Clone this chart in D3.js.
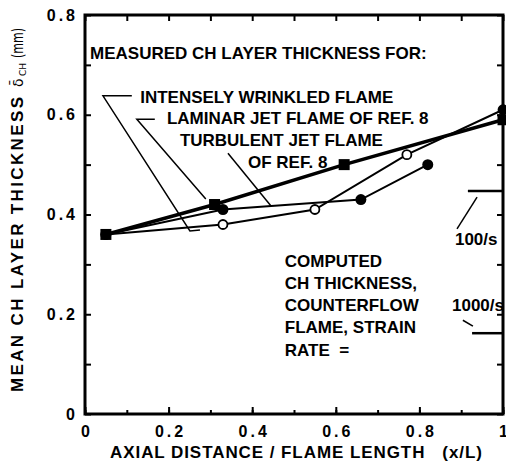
<!DOCTYPE html>
<html>
<head>
<meta charset="utf-8">
<script src="https://cdn.jsdelivr.net/npm/d3@7"></script>
<style>
html, body { margin: 0; padding: 0; background: #fff; }
svg { display: block; font-family: "Liberation Sans", Arial, sans-serif; font-weight: bold; }
</style>
</head>
<body>
<div id="chart"></div>
<script>
// measured CH layer thickness (mm) against x/L
var laminarX = [0.05, 0.31, 0.62, 1.0];
var laminarY = [0.36, 0.42, 0.50, 0.59];
var turbulentX = [0.05, 0.33, 0.66, 0.82];
var turbulentY = [0.36, 0.41, 0.43, 0.50];
var wrinkledX = [0.05, 0.33, 0.55, 0.77, 1.0];
var wrinkledY = [0.36, 0.38, 0.41, 0.52, 0.61];

// computed counterflow thickness, by strain rate
var strainRates = ['100/s', '1000/s'];
var strainThickness = [0.447, 0.162];

var xTicks = [0, 0.2, 0.4, 0.6, 0.8, 1];
var xTickLabels = ['0', '0.2', '0.4', '0.6', '0.8', '1'];
var yTicks = [0, 0.2, 0.4, 0.6, 0.8];
var yTickLabels = ['0', '0.2', '0.4', '0.6', '0.8'];

// annotation text, placed in data units
var noteText = ['MEASURED CH LAYER THICKNESS FOR:', 'INTENSELY WRINKLED FLAME',
    'LAMINAR JET FLAME OF REF. 8', 'TURBULENT JET FLAME', 'OF REF. 8'];
var noteX = [0.012, 0.132, 0.196, 0.227, 0.390];
var noteY = [0.712, 0.624, 0.581, 0.537, 0.493];
var computedText = ['COMPUTED', 'CH THICKNESS,', 'COUNTERFLOW', 'FLAME, STRAIN', 'RATE  ='];
var computedY = [0.295, 0.251, 0.207, 0.162, 0.116];

var width = 506, height = 471;

var x = d3.scaleLinear().domain([0, 1]).range([85, 503]);
var y = d3.scaleLinear().domain([0, 0.8]).range([414, 15]);

var svg = d3.select('#chart')
    .append('svg')
    .attr('width', width)
    .attr('height', height);

svg.append('rect').attr('width', width).attr('height', height).attr('fill', '#fff');

function zip(xs, ys) {
    return xs.map(function (v, i) { return [v, ys[i]] });
}

var line = d3.line()
    .x(function (d) { return x(d[0]) })
    .y(function (d) { return y(d[1]) });

// ticks, all pointing inward
var minor = d3.range(0, 1.001, 0.1);
var minorY = d3.range(0, 0.801, 0.1);

function tickOnly(axis) {
    return function (g) {
        g.call(axis.tickFormat(''));
        g.select('.domain').remove();
        g.selectAll('line').attr('stroke', '#000').attr('stroke-width', 2);
    }
}

svg.append('g').attr('transform', 'translate(' + x(0) + ',0)')
    .call(tickOnly(d3.axisLeft(y).tickValues(minorY).tickSize(-6)));
svg.append('g').attr('transform', 'translate(' + x(1) + ',0)')
    .call(tickOnly(d3.axisRight(y).tickValues(minorY).tickSize(-6)));
svg.append('g').attr('transform', 'translate(0,' + y(0.8) + ')')
    .call(tickOnly(d3.axisTop(x).tickValues(minor).tickSize(-6)));
svg.append('g').attr('transform', 'translate(0,' + y(0) + ')')
    .call(tickOnly(d3.axisBottom(x).tickValues(minor).tickSize(-4)));
svg.append('g').attr('transform', 'translate(0,' + y(0) + ')')
    .call(tickOnly(d3.axisBottom(x).tickValues(xTicks).tickSize(-7)));

// frame
svg.append('rect')
    .attr('x', x(0)).attr('y', y(0.8))
    .attr('width', x(1) - x(0)).attr('height', y(0) - y(0.8))
    .attr('fill', 'none').attr('stroke', '#000').attr('stroke-width', 3);

// tick labels
var ls = 3;
var yAxis = svg.append('g').attr('transform', 'translate(' + x(0) + ',0)')
    .call(d3.axisLeft(y).tickValues(yTicks).tickSize(0).tickPadding(10)
        .tickFormat(function (d, i) { return yTickLabels[i] }));
yAxis.select('.domain').remove();
yAxis.attr('font-family', null).attr('font-size', 16);
yAxis.selectAll('text').attr('fill', '#000').style('letter-spacing', ls + 'px').attr('dx', ls);

var xAxis = svg.append('g').attr('transform', 'translate(0,' + y(0) + ')')
    .call(d3.axisBottom(x).tickValues(xTicks).tickSize(0).tickPadding(12)
        .tickFormat(function (d, i) { return xTickLabels[i] }));
xAxis.select('.domain').remove();
xAxis.attr('font-family', null).attr('font-size', 16);
xAxis.selectAll('text').attr('fill', '#000').style('letter-spacing', ls + 'px').attr('dx', ls / 2);

// axis titles
svg.append('text')
    .attr('x', 110).attr('y', 458)
    .attr('font-size', 17)
    .attr('textLength', 372).attr('lengthAdjust', 'spacing')
    .style('white-space', 'pre')
    .text('AXIAL DISTANCE / FLAME LENGTH   (x/L)');

var yTitle = svg.append('g').attr('transform', 'translate(23,392) rotate(-90)');
yTitle.append('text')
    .attr('font-size', 17)
    .attr('textLength', 295).attr('lengthAdjust', 'spacing')
    .text('MEAN CH LAYER THICKNESS');
yTitle.append('text')
    .attr('x', 305)
    .attr('font-family', 'DejaVu Sans').attr('font-weight', 'normal').attr('font-size', 14)
    .text('\u03b4\u0304');
yTitle.append('text')
    .attr('x', 316).attr('y', 3)
    .attr('font-family', 'DejaVu Sans').attr('font-weight', 'normal').attr('font-size', 9)
    .text('CH');
yTitle.append('text')
    .attr('x', 334)
    .attr('font-family', 'DejaVu Sans').attr('font-weight', 'normal').attr('font-size', 15)
    .attr('textLength', 30).attr('lengthAdjust', 'spacingAndGlyphs')
    .text('(mm)');

// measured series
svg.append('path').attr('d', line(zip(wrinkledX, wrinkledY)))
    .attr('fill', 'none').attr('stroke', '#000').attr('stroke-width', 2);
svg.append('path').attr('d', line(zip(turbulentX, turbulentY)))
    .attr('fill', 'none').attr('stroke', '#000').attr('stroke-width', 2);
svg.append('path').attr('d', line(zip(laminarX, laminarY)))
    .attr('fill', 'none').attr('stroke', '#000').attr('stroke-width', 3.5);

svg.selectAll('circle.wrinkled')
    .data(zip(wrinkledX, wrinkledY))
    .enter().append('circle')
    .attr('class', 'wrinkled')
    .attr('cx', function (d) { return x(d[0]) })
    .attr('cy', function (d) { return y(d[1]) })
    .attr('r', 4.5)
    .attr('fill', function (d) { return d[0] === 1 ? '#000' : '#fff' })
    .attr('stroke', '#000').attr('stroke-width', 1.8);

svg.selectAll('circle.turbulent')
    .data(zip(turbulentX, turbulentY))
    .enter().append('circle')
    .attr('class', 'turbulent')
    .attr('cx', function (d) { return x(d[0]) })
    .attr('cy', function (d) { return y(d[1]) })
    .attr('r', 5.5)
    .attr('fill', '#000');

svg.selectAll('rect.laminar')
    .data(zip(laminarX, laminarY))
    .enter().append('rect')
    .attr('class', 'laminar')
    .attr('x', function (d) { return x(d[0]) - 5.5 })
    .attr('y', function (d) { return y(d[1]) - 5.5 })
    .attr('width', 11).attr('height', 11)
    .attr('fill', '#000');

// leader lines to the three series
var leaders = [
    [[0.112, 0.638], [0.043, 0.638], [0.251, 0.367], [0.275, 0.369]],
    [[0.167, 0.591], [0.124, 0.591], [0.289, 0.431]],
    [[0.342, 0.523], [0.445, 0.417]]
];
svg.selectAll('path.leader')
    .data(leaders)
    .enter().append('path')
    .attr('class', 'leader')
    .attr('d', line)
    .attr('fill', 'none').attr('stroke', '#000').attr('stroke-width', 1.5);

svg.selectAll('text.note')
    .data(noteText)
    .enter().append('text')
    .attr('class', 'note')
    .attr('x', function (d, i) { return x(noteX[i]) })
    .attr('y', function (d, i) { return y(noteY[i]) })
    .attr('font-size', 17)
    .text(function (d) { return d });

// computed counterflow marks on the right edge
var strainLeft = [0.916, 0.926];
var strainLeader = [
    [[0.938, 0.435], [0.890, 0.371]],
    [[0.904, 0.188], [0.928, 0.176]]
];
var strainLabelX = [0.885, 0.878];
var strainLabelY = [0.339, 0.207];

svg.selectAll('line.strain')
    .data(strainThickness)
    .enter().append('line')
    .attr('class', 'strain')
    .attr('x1', function (d, i) { return x(strainLeft[i]) })
    .attr('x2', x(1))
    .attr('y1', function (d) { return y(d) })
    .attr('y2', function (d) { return y(d) })
    .attr('stroke', '#000').attr('stroke-width', 2.5);

svg.selectAll('path.strainLeader')
    .data(strainLeader)
    .enter().append('path')
    .attr('class', 'strainLeader')
    .attr('d', line)
    .attr('fill', 'none').attr('stroke', '#000').attr('stroke-width', 1.5);

svg.selectAll('text.strain')
    .data(strainRates)
    .enter().append('text')
    .attr('class', 'strain')
    .attr('x', function (d, i) { return x(strainLabelX[i]) })
    .attr('y', function (d, i) { return y(strainLabelY[i]) })
    .attr('font-size', 17)
    .text(function (d) { return d });

svg.selectAll('text.computed')
    .data(computedText)
    .enter().append('text')
    .attr('class', 'computed')
    .attr('x', x(0.478))
    .attr('y', function (d, i) { return y(computedY[i]) })
    .attr('font-size', 17)
    .style('white-space', 'pre')
    .text(function (d) { return d });
</script>
</body>
</html>
